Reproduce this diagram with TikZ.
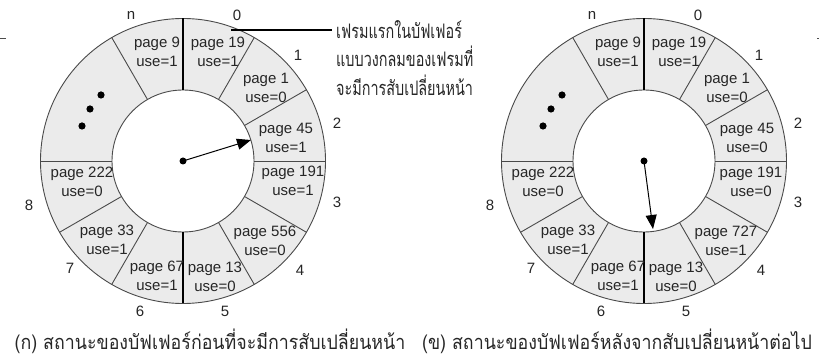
\documentclass[tikz,border=0pt]{standalone}
\usepackage{fontspec}
\setmainfont{Liberation Sans}
\newfontfamily\thainote[Script=Thai, FakeStretch=0.72]{Loma}
\newfontfamily\thaicap[Script=Thai, FakeStretch=0.89]{Loma}
\usetikzlibrary{arrows.meta}
\definecolor{ringfill}{HTML}{EBEBEB}
\definecolor{ringline}{HTML}{4A4A4A}
\tikzset{
  ringedge/.style={draw=ringline, line width=0.9pt},
  divider/.style={draw=ringline, line width=0.9pt},
  mainsplit/.style={draw=black, line width=1.3pt},
  cell/.style={align=center, font=\fontsize{15}{18.5}\selectfont, inner sep=0pt, text=black!85},
  slotno/.style={font=\fontsize{15}{18}\selectfont, inner sep=0pt, text=black!85},
  hubdot/.style={circle, fill=black, inner sep=0pt, minimum size=7pt},
  ptr/.style={line width=1pt, -{Triangle[length=14pt,width=11pt]}},
  thaitext/.style={font=\thainote\fontsize{20}{24}\selectfont, inner sep=0pt, anchor=base west, text=black!85},
  caption/.style={font=\thaicap\fontsize{20}{24}\selectfont, inner sep=0pt, anchor=base, text=black!85, text depth=4pt},
}
\newcommand\bufring[4]{%
\begin{scope}[shift={(#2,197)}]
  \fill[ringfill, even odd rule] (0,0) circle (142.5) (0,0) circle (71);
  \draw[ringedge] (0,0) circle (142.5) (0,0) circle (71);
  \foreach \a in {60,30,0,-30,-60,-120,-150,180,120}
    \draw[divider] (\a:71) -- (\a:142.5);
  \draw[mainsplit] (90:71) -- (90:142.5) (-90:71) -- (-90:142.5);
  \foreach \px/\py/\t [count=\i] in {#3}
    \node[cell] (#1cell\i) at (\px,\py) {\t};
  \foreach \px/\py/\t [count=\i] in {54/146/0, -52/146/n, 115/106/1, 154/38/2, 154/-41/3,
      117/-109/4, 42/-150/5, -43/-150/6, -113/-107/7, -154/-44/8}
    \node[slotno] (#1num\i) at (\px,\py) {\t};
  \fill (-82,66) circle (3.6) (-93,52) circle (3.6) (-101,35) circle (3.6);
  \node[hubdot] (#1hub) at (0,0) {};
  \coordinate (#1tip) at (#4);
  \draw[ptr] (#1hub.center) -- (#1tip);
\end{scope}}

\begin{document}
\begin{tikzpicture}[x=1pt,y=1pt]
\useasboundingbox (0,0) rectangle (819,358);
\bufring{L}{183}{35/109/{page 19\\use=1}, -26/109/{page 9\\use=1}, 83/73/{page 1\\use=0},
  103/23/{page 45\\use=1}, 110/-20/{page 191\\use=1}, 82/-80/{page 556\\use=0},
  32/-116/{page 13\\use=0}, -26/-115/{page 67\\use=1}, -76/-79/{page 33\\use=1},
  -101/-21/{page 222\\use=0}}{68,21}
\bufring{R}{644}{35/109/{page 19\\use=1}, -26/109/{page 9\\use=1}, 83/73/{page 1\\use=0},
  103/23/{page 45\\use=0}, 107/-21/{page 191\\use=0}, 82/-80/{page 727\\use=1},
  32/-116/{page 13\\use=0}, -26/-115/{page 67\\use=1}, -76/-79/{page 33\\use=1},
  -101/-21/{page 222\\use=0}}{9,-68}
% annotation
\node[thaitext] (note1) at (336,319.5) {เฟรมแรกในบัฟเฟอร์};
\node[thaitext] (note2) at (336,291) {แบบวงกลมของเฟรมที่};
\node[thaitext] (note3) at (336,262) {จะมีการสับเปลี่ยนหน้า};
\coordinate (notestart) at (231,328);
\draw[line width=1.3pt] (notestart) -- ([xshift=-4pt]note1.west |- notestart);
% captions
\node[caption] (capL) at (210,8) {(ก) สถานะของบัฟเฟอร์ก่อนที่จะมีการสับเปลี่ยนหน้า};
\node[caption] (capR) at (617,8) {(ข) สถานะของบัฟเฟอร์หลังจากสับเปลี่ยนหน้าต่อไป};
% edge marks
\coordinate (edgeA) at (0,319);
\coordinate (edgeB) at (6,319);
\draw[line width=1pt, black!70] (edgeA) -- (edgeB);
\coordinate (edgeC) at (817,319);
\coordinate (edgeD) at (819,319);
\draw[line width=1pt, black!70] (edgeC) -- (edgeD);
\end{tikzpicture}
\end{document}
